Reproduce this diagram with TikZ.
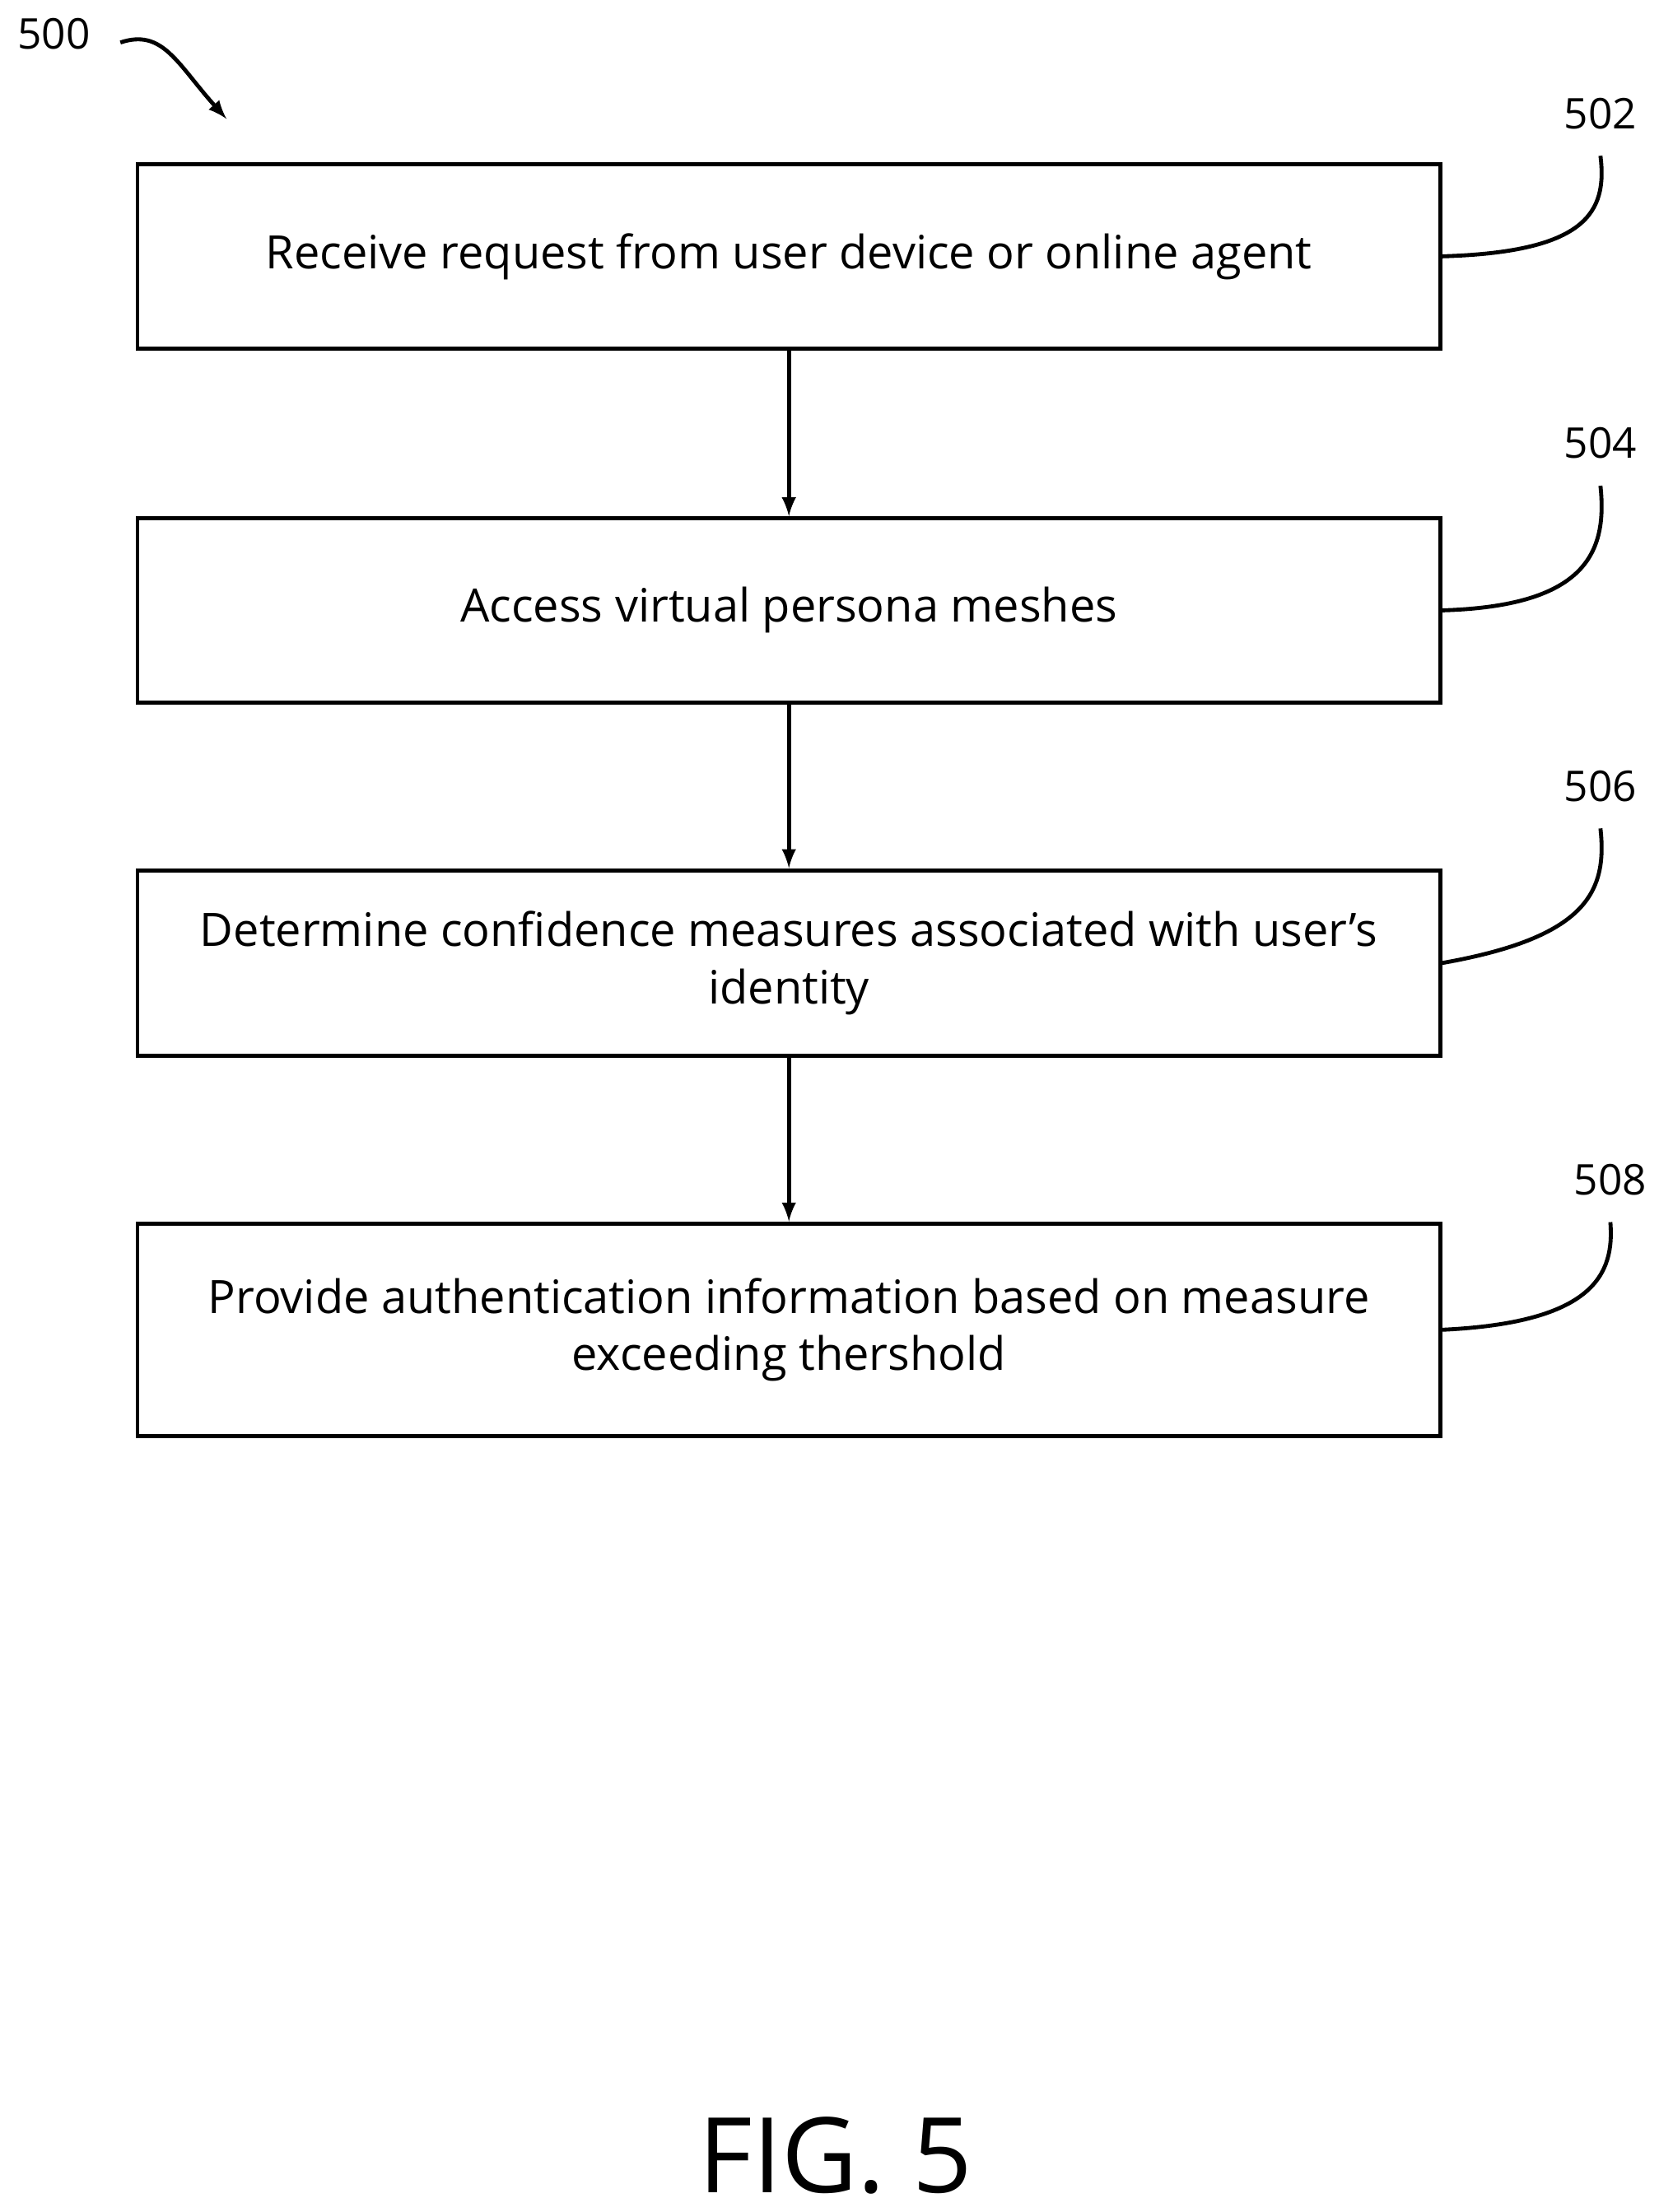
\documentclass[tikz,border=0pt]{standalone}
\usepackage{fontspec}
\setmainfont{Open Sans}
\usetikzlibrary{positioning}
\tikzset{
  flowstep/.style={draw,line width=1.6pt,minimum width=18.4cm,align=center,font=\fontsize{18.5}{23}\selectfont},
  ref/.style={font=\fontsize{17}{20}\selectfont},
  lead/.style={line width=1.6pt},
  flow/.style={-latex,line width=1.6pt}
}
\begin{document}
\begin{tikzpicture}[x=0.02cm,y=-0.02cm]
        \useasboundingbox (0,0) rectangle (1171,1562);

        % Steps of the flow
        \node[flowstep,minimum height=2.6cm] (s502) at (557,181) {Receive request from user device or online agent};
        \node[flowstep,minimum height=2.6cm] (s504) at (557,431) {Access virtual persona meshes};
        \node[flowstep,minimum height=2.62cm] (s506) at (557,680) {Determine confidence measures associated with user's\\identity};
        \node[flowstep,minimum height=3.0cm] (s508) at (557,939) {Provide authentication information based on measure\\exceeding thershold};

        % Arrows between steps
        \draw[flow] (s502) -- (s504);
        \draw[flow] (s504) -- (s506);
        \draw[flow] (s506) -- (s508);

        % Reference numerals
        \node[ref] (n500) at (38,24) {500};
        \node[ref] (n502) at (1130,80) {502};
        \node[ref] (n504) at (1130,313) {504};
        \node[ref] (n506) at (1130,555) {506};
        \node[ref] (n508) at (1137,833) {508};
        \coordinate (t500) at (160,84);
        \draw[flow] (85,30) .. controls (115,20) and (125,45) .. (t500);
        \draw[lead] (s502.east) .. controls (1120,178) and (1135,150) .. (1130,110);
        \draw[lead] (s504.east) .. controls (1120,428) and (1135,390) .. (1130,343);
        \draw[lead] (s506.east) .. controls (1120,662) and (1135,630) .. (1130,585);
        \draw[lead] (s508.east) .. controls (1125,934) and (1140,900) .. (1137,863);

        \node[font=\fontsize{42}{48}\selectfont] (fig) at (590,1522) {FIG. 5};
\end{tikzpicture}
\end{document}
